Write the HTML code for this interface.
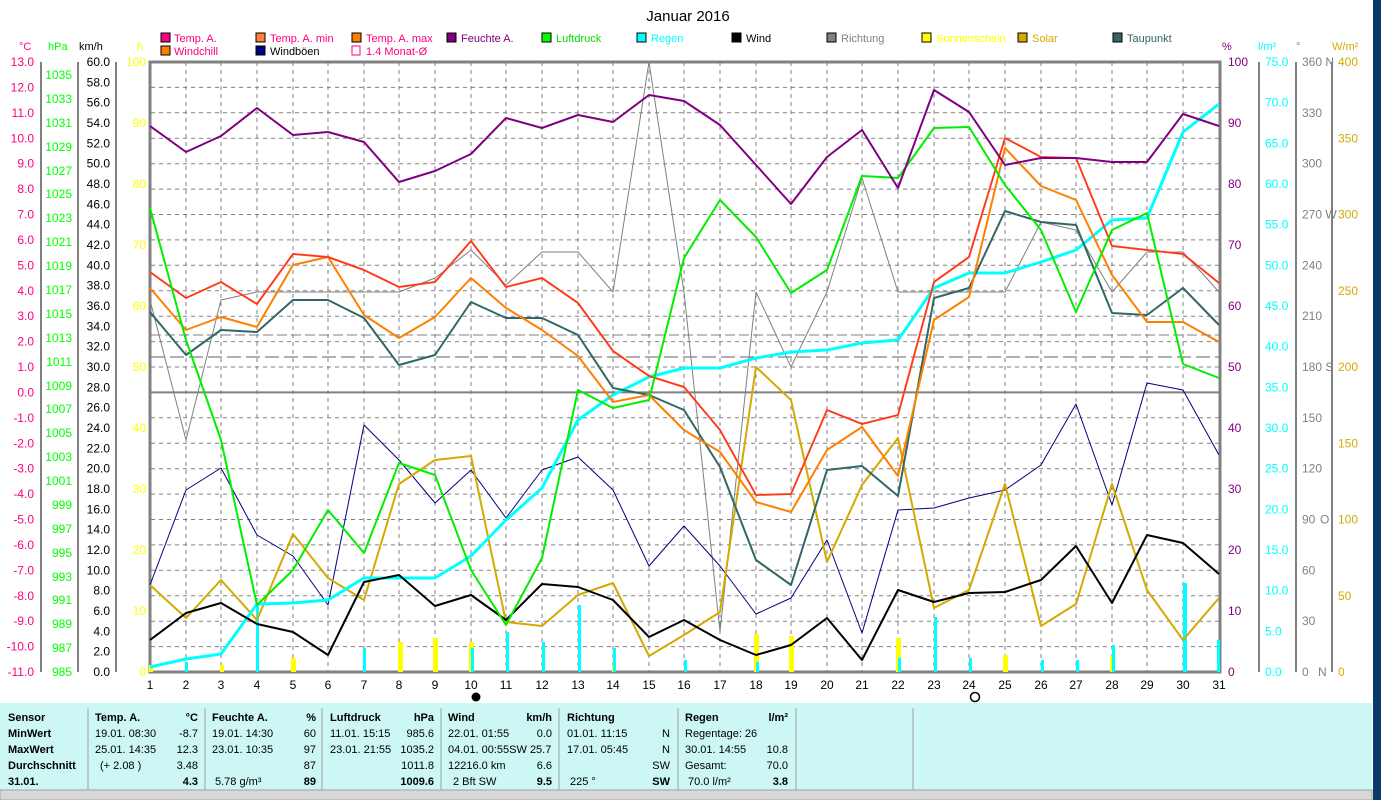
<!DOCTYPE html>
<html><head><meta charset="utf-8"><style>
body{margin:0;width:1381px;height:800px;overflow:hidden;background:#fff;font-family:"Liberation Sans",sans-serif}
svg text{font-family:"Liberation Sans",sans-serif}
</style></head><body>
<svg width="1381" height="800" xmlns="http://www.w3.org/2000/svg" style="position:absolute;left:0;top:0">
<rect x="1373" y="0" width="8" height="800" fill="#0a3a6a"/>
<text x="688" y="21" font-size="15" text-anchor="middle">Januar 2016</text>
<g font-size="11">
<rect x="161" y="33" width="9" height="9" fill="#ff0080" stroke="#000"/><text x="174" y="42" fill="#ff0080">Temp. A.</text>
<rect x="256" y="33" width="9" height="9" fill="#ff8040" stroke="#000"/><text x="270" y="42" fill="#ff0080">Temp. A. min</text>
<rect x="352" y="33" width="9" height="9" fill="#ff8000" stroke="#000"/><text x="366" y="42" fill="#ff0080">Temp. A. max</text>
<rect x="447" y="33" width="9" height="9" fill="#800080" stroke="#000"/><text x="461" y="42" fill="#800080">Feuchte A.</text>
<rect x="542" y="33" width="9" height="9" fill="#00ff00" stroke="#000"/><text x="556" y="42" fill="#00dd00">Luftdruck</text>
<rect x="637" y="33" width="9" height="9" fill="#00ffff" stroke="#000"/><text x="651" y="42" fill="#00ffff">Regen</text>
<rect x="732" y="33" width="9" height="9" fill="#000" stroke="#000"/><text x="746" y="42" fill="#000">Wind</text>
<rect x="827" y="33" width="9" height="9" fill="#808080" stroke="#000"/><text x="841" y="42" fill="#808080">Richtung</text>
<rect x="922" y="33" width="9" height="9" fill="#ffff00" stroke="#000"/><text x="936" y="42" fill="#ffff00">Sonnenschein</text>
<rect x="1018" y="33" width="9" height="9" fill="#d4aa00" stroke="#000"/><text x="1032" y="42" fill="#d4aa00">Solar</text>
<rect x="1113" y="33" width="9" height="9" fill="#336666" stroke="#000"/><text x="1127" y="42" fill="#336666">Taupunkt</text>
<rect x="161" y="46" width="9" height="9" fill="#ff8000" stroke="#000"/><text x="174" y="55" fill="#ff0080">Windchill</text>
<rect x="256" y="46" width="9" height="9" fill="#000080" stroke="#000"/><text x="270" y="55" fill="#000">Windböen</text>
<rect x="352" y="46" width="8" height="9" fill="none" stroke="#ff0080"/><text x="366" y="55" fill="#ff0080">1.4 Monat-Ø</text>
</g>
<g font-size="11">
<text x="19" y="50" fill="#ff0080">°C</text><text x="48" y="50" fill="#00ff00">hPa</text><text x="79" y="50" fill="#000">km/h</text><text x="137" y="50" fill="#ffff00">h</text>
<text x="1222" y="50" fill="#800080">%</text><text x="1258" y="50" fill="#00ffff">l/m²</text><text x="1296" y="50" fill="#808080">°</text><text x="1332" y="50" fill="#d4aa00">W/m²</text>
</g>
<g stroke="#808080" stroke-dasharray="4,4" stroke-width="1">
<line x1="151" x2="1219" y1="87.4" y2="87.4"/><line x1="151" x2="1219" y1="112.8" y2="112.8"/><line x1="151" x2="1219" y1="138.3" y2="138.3"/><line x1="151" x2="1219" y1="163.7" y2="163.7"/><line x1="151" x2="1219" y1="189.1" y2="189.1"/><line x1="151" x2="1219" y1="214.5" y2="214.5"/><line x1="151" x2="1219" y1="239.9" y2="239.9"/><line x1="151" x2="1219" y1="265.3" y2="265.3"/><line x1="151" x2="1219" y1="290.8" y2="290.8"/><line x1="151" x2="1219" y1="316.2" y2="316.2"/><line x1="151" x2="1219" y1="341.6" y2="341.6"/><line x1="151" x2="1219" y1="367" y2="367"/><line x1="151" x2="1219" y1="417.8" y2="417.8"/><line x1="151" x2="1219" y1="443.3" y2="443.3"/><line x1="151" x2="1219" y1="468.7" y2="468.7"/><line x1="151" x2="1219" y1="494.1" y2="494.1"/><line x1="151" x2="1219" y1="519.5" y2="519.5"/><line x1="151" x2="1219" y1="544.9" y2="544.9"/><line x1="151" x2="1219" y1="570.3" y2="570.3"/><line x1="151" x2="1219" y1="595.8" y2="595.8"/><line x1="151" x2="1219" y1="621.2" y2="621.2"/><line x1="151" x2="1219" y1="646.6" y2="646.6"/>
<line y1="62" y2="672" x1="186" x2="186"/><line y1="62" y2="672" x1="221" x2="221"/><line y1="62" y2="672" x1="257" x2="257"/><line y1="62" y2="672" x1="293" x2="293"/><line y1="62" y2="672" x1="328" x2="328"/><line y1="62" y2="672" x1="364" x2="364"/><line y1="62" y2="672" x1="399" x2="399"/><line y1="62" y2="672" x1="435" x2="435"/><line y1="62" y2="672" x1="471" x2="471"/><line y1="62" y2="672" x1="506" x2="506"/><line y1="62" y2="672" x1="542" x2="542"/><line y1="62" y2="672" x1="578" x2="578"/><line y1="62" y2="672" x1="613" x2="613"/><line y1="62" y2="672" x1="649" x2="649"/><line y1="62" y2="672" x1="684" x2="684"/><line y1="62" y2="672" x1="720" x2="720"/><line y1="62" y2="672" x1="756" x2="756"/><line y1="62" y2="672" x1="791" x2="791"/><line y1="62" y2="672" x1="827" x2="827"/><line y1="62" y2="672" x1="862" x2="862"/><line y1="62" y2="672" x1="898" x2="898"/><line y1="62" y2="672" x1="934" x2="934"/><line y1="62" y2="672" x1="969" x2="969"/><line y1="62" y2="672" x1="1005" x2="1005"/><line y1="62" y2="672" x1="1041" x2="1041"/><line y1="62" y2="672" x1="1076" x2="1076"/><line y1="62" y2="672" x1="1112" x2="1112"/><line y1="62" y2="672" x1="1147" x2="1147"/><line y1="62" y2="672" x1="1183" x2="1183"/>
</g>
<line x1="151" x2="1219" y1="335" y2="335" stroke="#808080" stroke-dasharray="10,4"/>
<line x1="151" x2="1219" y1="357" y2="357" stroke="#606060" stroke-dasharray="14,5"/>
<line x1="151" x2="1219" y1="392.4" y2="392.4" stroke="#808080" stroke-width="2"/>
<rect x="150" y="62" width="1070" height="610" fill="none" stroke="#808080" stroke-width="3"/>
<g stroke="#808080" stroke-width="2"><line x1="41" y1="62" x2="41" y2="672"/><line x1="78" y1="62" x2="78" y2="672"/><line x1="116" y1="62" x2="116" y2="672"/>
<line x1="1259" y1="62" x2="1259" y2="672"/><line x1="1296" y1="62" x2="1296" y2="672"/><line x1="1332" y1="62" x2="1332" y2="672"/></g>
<g font-size="12" fill="#ff0080" text-anchor="end">
<text x="34" y="66">13.0</text><text x="34" y="91.4">12.0</text><text x="34" y="116.8">11.0</text><text x="34" y="142.3">10.0</text><text x="34" y="167.7">9.0</text><text x="34" y="193.1">8.0</text><text x="34" y="218.5">7.0</text><text x="34" y="243.9">6.0</text><text x="34" y="269.3">5.0</text><text x="34" y="294.8">4.0</text><text x="34" y="320.2">3.0</text><text x="34" y="345.6">2.0</text><text x="34" y="371">1.0</text><text x="34" y="396.4">0.0</text><text x="34" y="421.8">-1.0</text><text x="34" y="447.3">-2.0</text><text x="34" y="472.7">-3.0</text><text x="34" y="498.1">-4.0</text><text x="34" y="523.5">-5.0</text><text x="34" y="548.9">-6.0</text><text x="34" y="574.3">-7.0</text><text x="34" y="599.8">-8.0</text><text x="34" y="625.2">-9.0</text><text x="34" y="650.6">-10.0</text><text x="34" y="676">-11.0</text>
</g>
<g font-size="12" fill="#00ff00" text-anchor="end">
<text x="72" y="79">1035</text><text x="72" y="103">1033</text><text x="72" y="127">1031</text><text x="72" y="151">1029</text><text x="72" y="175">1027</text><text x="72" y="198">1025</text><text x="72" y="222">1023</text><text x="72" y="246">1021</text><text x="72" y="270">1019</text><text x="72" y="294">1017</text><text x="72" y="318">1015</text><text x="72" y="342">1013</text><text x="72" y="366">1011</text><text x="72" y="390">1009</text><text x="72" y="413">1007</text><text x="72" y="437">1005</text><text x="72" y="461">1003</text><text x="72" y="485">1001</text><text x="72" y="509">999</text><text x="72" y="533">997</text><text x="72" y="557">995</text><text x="72" y="581">993</text><text x="72" y="604">991</text><text x="72" y="628">989</text><text x="72" y="652">987</text><text x="72" y="676">985</text>
</g>
<g font-size="12" fill="#000" text-anchor="end">
<text x="110" y="66">60.0</text><text x="110" y="86.3">58.0</text><text x="110" y="106.7">56.0</text><text x="110" y="127">54.0</text><text x="110" y="147.3">52.0</text><text x="110" y="167.7">50.0</text><text x="110" y="188">48.0</text><text x="110" y="208.3">46.0</text><text x="110" y="228.7">44.0</text><text x="110" y="249">42.0</text><text x="110" y="269.3">40.0</text><text x="110" y="289.7">38.0</text><text x="110" y="310">36.0</text><text x="110" y="330.3">34.0</text><text x="110" y="350.7">32.0</text><text x="110" y="371">30.0</text><text x="110" y="391.3">28.0</text><text x="110" y="411.7">26.0</text><text x="110" y="432">24.0</text><text x="110" y="452.3">22.0</text><text x="110" y="472.7">20.0</text><text x="110" y="493">18.0</text><text x="110" y="513.3">16.0</text><text x="110" y="533.7">14.0</text><text x="110" y="554">12.0</text><text x="110" y="574.3">10.0</text><text x="110" y="594.7">8.0</text><text x="110" y="615">6.0</text><text x="110" y="635.3">4.0</text><text x="110" y="655.7">2.0</text><text x="110" y="676">0.0</text>
</g>
<g font-size="12" fill="#ffff00" text-anchor="end">
<text x="146" y="66">100</text><text x="146" y="127">90</text><text x="146" y="188">80</text><text x="146" y="249">70</text><text x="146" y="310">60</text><text x="146" y="371">50</text><text x="146" y="432">40</text><text x="146" y="493">30</text><text x="146" y="554">20</text><text x="146" y="615">10</text><text x="146" y="676">0</text>
</g>
<g font-size="12" fill="#800080">
<text x="1228" y="66">100</text><text x="1228" y="127">90</text><text x="1228" y="188">80</text><text x="1228" y="249">70</text><text x="1228" y="310">60</text><text x="1228" y="371">50</text><text x="1228" y="432">40</text><text x="1228" y="493">30</text><text x="1228" y="554">20</text><text x="1228" y="615">10</text><text x="1228" y="676">0</text>
</g>
<g font-size="12" fill="#00ffff">
<text x="1265" y="66">75.0</text><text x="1265" y="106.7">70.0</text><text x="1265" y="147.3">65.0</text><text x="1265" y="188">60.0</text><text x="1265" y="228.7">55.0</text><text x="1265" y="269.3">50.0</text><text x="1265" y="310">45.0</text><text x="1265" y="350.7">40.0</text><text x="1265" y="391.3">35.0</text><text x="1265" y="432">30.0</text><text x="1265" y="472.7">25.0</text><text x="1265" y="513.3">20.0</text><text x="1265" y="554">15.0</text><text x="1265" y="594.7">10.0</text><text x="1265" y="635.3">5.0</text><text x="1265" y="676">0.0</text>
</g>
<g font-size="12" fill="#808080">
<text x="1302" y="66">360 N</text><text x="1302" y="116.8">330</text><text x="1302" y="167.7">300</text><text x="1302" y="218.5">270 W</text><text x="1302" y="269.3">240</text><text x="1302" y="320.2">210</text><text x="1302" y="371">180 S</text><text x="1302" y="421.8">150</text><text x="1302" y="472.7">120</text><text x="1302" y="523.5">90</text><text x="1320" y="523.5">O</text><text x="1302" y="574.3">60</text><text x="1302" y="625.2">30</text><text x="1302" y="676">0</text><text x="1318" y="676">N</text>
</g>
<g font-size="12" fill="#d4aa00">
<text x="1338" y="66">400</text><text x="1338" y="142.3">350</text><text x="1338" y="218.5">300</text><text x="1338" y="294.8">250</text><text x="1338" y="371">200</text><text x="1338" y="447.3">150</text><text x="1338" y="523.5">100</text><text x="1338" y="599.8">50</text><text x="1338" y="676">0</text>
</g>
<g font-size="12" text-anchor="middle">
<text x="150" y="689">1</text><text x="186" y="689">2</text><text x="221" y="689">3</text><text x="257" y="689">4</text><text x="293" y="689">5</text><text x="328" y="689">6</text><text x="364" y="689">7</text><text x="399" y="689">8</text><text x="435" y="689">9</text><text x="471" y="689">10</text><text x="506" y="689">11</text><text x="542" y="689">12</text><text x="578" y="689">13</text><text x="613" y="689">14</text><text x="649" y="689">15</text><text x="684" y="689">16</text><text x="720" y="689">17</text><text x="756" y="689">18</text><text x="791" y="689">19</text><text x="827" y="689">20</text><text x="862" y="689">21</text><text x="898" y="689">22</text><text x="934" y="689">23</text><text x="969" y="689">24</text><text x="1005" y="689">25</text><text x="1041" y="689">26</text><text x="1076" y="689">27</text><text x="1112" y="689">28</text><text x="1147" y="689">29</text><text x="1183" y="689">30</text><text x="1219" y="689">31</text>
</g>
<circle cx="476" cy="697" r="4.5" fill="#000"/>
<circle cx="975" cy="697" r="4.5" fill="none" stroke="#000" stroke-width="1.5"/>
<g fill="#ffff00">
<rect x="149" y="665" width="4" height="7"/><rect x="220" y="665" width="4" height="7"/><rect x="291" y="658" width="5" height="14"/><rect x="398" y="642" width="5" height="30"/><rect x="433" y="638" width="5" height="34"/><rect x="469" y="642" width="5" height="30"/><rect x="754" y="634" width="5" height="38"/><rect x="789" y="636" width="5" height="36"/><rect x="896" y="638" width="5" height="34"/><rect x="1003" y="655" width="5" height="17"/><rect x="1110" y="656" width="5" height="16"/><rect x="612" y="665" width="4" height="7"/>
</g>
<g fill="#00ffff">
<rect x="185" y="662" width="3" height="10"/><rect x="256" y="605" width="3" height="67"/><rect x="363" y="648" width="3" height="24"/><rect x="471" y="648" width="3" height="24"/><rect x="506" y="632" width="3" height="40"/><rect x="542" y="642" width="3" height="30"/><rect x="578" y="605" width="3" height="67"/><rect x="613" y="648" width="3" height="24"/><rect x="684" y="660" width="3" height="12"/><rect x="756" y="662" width="3" height="10"/><rect x="898" y="658" width="3" height="14"/><rect x="934" y="617" width="3" height="55"/><rect x="969" y="658" width="3" height="14"/><rect x="1041" y="660" width="3" height="12"/><rect x="1076" y="660" width="3" height="12"/><rect x="1112" y="645" width="3" height="27"/><rect x="1183" y="583" width="4" height="89"/><rect x="1217" y="640" width="3" height="32"/>
</g>
<g fill="none" stroke-linejoin="round">
<polyline stroke="#808080" stroke-width="1" points="150,300 186,440 221,300 257,292 293,292 328,292 364,292 399,292 435,278 471,250 506,285 542,252 578,252 613,292 649,62 684,292 720,632 756,292 791,367 827,292 862,178 898,292 934,292 969,292 1005,292 1041,222 1076,230 1112,292 1147,252 1183,252 1219,292"/>
<polyline stroke="#000080" stroke-width="1" points="150,585 186,490 221,468 257,535 293,556 328,605 364,425 399,460 435,503 471,470 506,518 542,470 578,457 613,490 649,566 684,526 720,566 756,614 791,598 827,540 862,633 898,510 934,508 969,498 1005,490 1041,465 1076,404 1112,505 1147,383 1183,390 1219,455"/>
<polyline stroke="#d4aa00" stroke-width="2" points="150,585 186,618 221,580 257,620 293,534 328,578 364,600 399,484 435,460 471,456 506,622 542,626 578,595 613,583 649,656 684,635 720,612 756,367 791,400 827,562 862,485 898,438 934,608 969,590 1005,484 1041,626 1076,604 1112,484 1147,590 1183,640 1219,598"/>
<polyline stroke="#00ffff" stroke-width="3" points="150,667 186,659 221,654 257,604 293,603 328,600 364,578 399,578 435,578 471,556 506,520 542,488 578,420 613,395 649,377 684,368 720,368 756,358 791,352 827,350 862,343 898,340 934,288 969,273 1005,273 1041,262 1076,250 1112,220 1147,218 1183,132 1219,104"/>
<polyline stroke="#000" stroke-width="2" points="150,640 186,613 221,603 257,624 293,632 328,655 364,582 399,575 435,606 471,595 506,620 542,584 578,587 613,600 649,637 684,620 720,640 756,655 791,645 827,618 862,660 898,590 934,602 969,593 1005,592 1041,580 1076,546 1112,603 1147,535 1183,543 1219,574"/>
<polyline stroke="#336666" stroke-width="2" points="150,312 186,355 221,330 257,332 293,300 328,300 364,318 399,365 435,355 471,302 506,318 542,318 578,335 613,388 649,395 684,410 720,467 756,560 791,585 827,470 862,466 898,496 934,298 969,288 1005,211 1041,222 1076,225 1112,313 1147,315 1183,288 1219,325"/>
<polyline stroke="#ff8000" stroke-width="2" points="150,288 186,330 221,317 257,327 293,265 328,257 364,315 399,338 435,317 471,278 506,308 542,330 578,356 613,402 649,395 684,430 720,452 756,502 791,512 827,450 862,427 898,476 934,320 969,297 1005,148 1041,186 1076,200 1112,275 1147,322 1183,322 1219,342"/>
<polyline stroke="#ff8000" stroke-width="2" points="150,272 186,298 221,282 257,304 293,254 328,257 364,270 399,287 435,282 471,241 506,287 542,278 578,303 613,351 649,376 684,387 720,430 756,495 791,494 827,410 862,424 898,415 934,282 969,257 1005,138 1041,157 1076,158 1112,246 1147,250 1183,254 1219,283"/>
<polyline stroke="#ff3030" stroke-width="1.5" points="150,272 186,298 221,282 257,304 293,254 328,257 364,270 399,287 435,282 471,241 506,287 542,278 578,303 613,351 649,376 684,387 720,430 756,495 791,494 827,410 862,424 898,415 934,282 969,257 1005,138 1041,157 1076,158 1112,246 1147,250 1183,254 1219,283"/>
<polyline stroke="#00ee00" stroke-width="2" points="150,208 186,340 221,440 257,605 293,570 328,510 364,553 399,463 435,475 471,570 506,625 542,558 578,390 613,408 649,400 684,258 720,200 756,237 791,293 827,270 862,176 898,178 934,128 969,127 1005,185 1041,230 1076,312 1112,230 1147,213 1183,364 1219,378"/>
<polyline stroke="#800080" stroke-width="2" points="150,126 186,152 221,136 257,108 293,135 328,132 364,142 399,182 435,171 471,154 506,118 542,128 578,115 613,122 649,95 684,101 720,125 756,165 791,204 827,157 862,130 898,188 934,90 969,112 1005,165 1041,158 1076,158 1112,162 1147,162 1183,114 1219,126"/>
</g>
<rect x="0" y="703" width="1372" height="88" fill="#ccf7f5"/>
<rect x="0" y="790" width="1372" height="10" fill="#d8d8d8" stroke="#a0a0a0"/>
<g stroke="#a0a0a0"><line x1="88" y1="708" x2="88" y2="790"/><line x1="205" y1="708" x2="205" y2="790"/><line x1="322" y1="708" x2="322" y2="790"/><line x1="441" y1="708" x2="441" y2="790"/><line x1="559" y1="708" x2="559" y2="790"/><line x1="678" y1="708" x2="678" y2="790"/><line x1="796" y1="708" x2="796" y2="790"/><line x1="913" y1="708" x2="913" y2="790"/></g>
<g font-size="11" fill="#000">
<g font-weight="bold"><text x="8" y="721">Sensor</text><text x="8" y="737">MinWert</text><text x="8" y="753">MaxWert</text><text x="8" y="769">Durchschnitt</text><text x="8" y="785">31.01.</text>
<text x="95" y="721">Temp. A.</text><text x="198" y="721" text-anchor="end">°C</text><text x="212" y="721">Feuchte A.</text><text x="316" y="721" text-anchor="end">%</text><text x="330" y="721">Luftdruck</text><text x="434" y="721" text-anchor="end">hPa</text><text x="448" y="721">Wind</text><text x="552" y="721" text-anchor="end">km/h</text><text x="567" y="721">Richtung</text><text x="685" y="721">Regen</text><text x="788" y="721" text-anchor="end">l/m²</text>
<text x="198" y="785" text-anchor="end">4.3</text><text x="316" y="785" text-anchor="end">89</text><text x="434" y="785" text-anchor="end">1009.6</text><text x="552" y="785" text-anchor="end">9.5</text><text x="670" y="785" text-anchor="end">SW</text><text x="788" y="785" text-anchor="end">3.8</text></g>
<text x="95" y="737">19.01.  08:30</text><text x="198" y="737" text-anchor="end">-8.7</text><text x="95" y="753">25.01.  14:35</text><text x="198" y="753" text-anchor="end">12.3</text><text x="100" y="769">(+ 2.08 )</text><text x="198" y="769" text-anchor="end">3.48</text>
<text x="212" y="737">19.01.  14:30</text><text x="316" y="737" text-anchor="end">60</text><text x="212" y="753">23.01.  10:35</text><text x="316" y="753" text-anchor="end">97</text><text x="316" y="769" text-anchor="end">87</text><text x="215" y="785">5.78 g/m³</text>
<text x="330" y="737">11.01.  15:15</text><text x="434" y="737" text-anchor="end">985.6</text><text x="330" y="753">23.01.  21:55</text><text x="434" y="753" text-anchor="end">1035.2</text><text x="434" y="769" text-anchor="end">1011.8</text>
<text x="448" y="737">22.01.  01:55</text><text x="552" y="737" text-anchor="end">0.0</text><text x="448" y="753">04.01.  00:55SW 25.7</text><text x="448" y="769">12216.0 km</text><text x="552" y="769" text-anchor="end">6.6</text><text x="453" y="785">2 Bft SW</text>
<text x="567" y="737">01.01.  11:15</text><text x="670" y="737" text-anchor="end">N</text><text x="567" y="753">17.01.  05:45</text><text x="670" y="753" text-anchor="end">N</text><text x="670" y="769" text-anchor="end">SW</text><text x="570" y="785">225 °</text>
<text x="685" y="737">Regentage: 26</text><text x="685" y="753">30.01.  14:55</text><text x="788" y="753" text-anchor="end">10.8</text><text x="685" y="769">Gesamt:</text><text x="788" y="769" text-anchor="end">70.0</text><text x="688" y="785">70.0 l/m²</text>
</g>
</svg>
</body></html>
